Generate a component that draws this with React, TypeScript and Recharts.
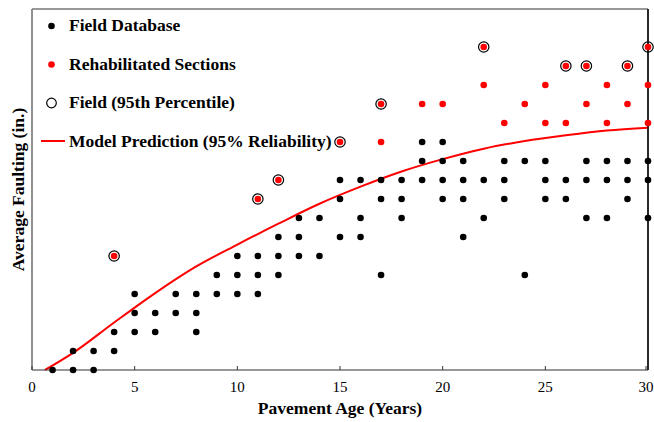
import React from 'react';
import { ComposedChart, Scatter, Line, XAxis, YAxis } from 'recharts';

// Field database points: [age (years), average faulting (in.)]
const fieldAges = [1, 2, 2, 3, 3, 4, 4, 5, 5, 5, 6, 6, 7, 7, 8, 8, 8, 9, 9, 10, 10, 10, 11, 11, 11, 12, 12, 12, 13, 13, 13, 14, 14, 15, 15, 15, 16, 16, 16, 17, 17, 17, 18, 18, 18, 19, 19, 19, 20, 20, 20, 20, 21, 21, 21, 21, 22, 22, 23, 23, 23, 24, 24, 25, 25, 25, 26, 26, 27, 27, 27, 28, 28, 28, 29, 29, 29, 30, 30, 30];
const fieldFaulting = [0, 0, 0.01, 0, 0.01, 0.01, 0.02, 0.02, 0.03, 0.04, 0.02, 0.03, 0.03, 0.04, 0.02, 0.03, 0.04, 0.04, 0.05, 0.04, 0.05, 0.06, 0.04, 0.05, 0.06, 0.05, 0.06, 0.07, 0.06, 0.07, 0.08, 0.06, 0.08, 0.07, 0.09, 0.10, 0.07, 0.08, 0.10, 0.05, 0.09, 0.10, 0.08, 0.09, 0.10, 0.10, 0.11, 0.12, 0.09, 0.10, 0.11, 0.12, 0.07, 0.09, 0.10, 0.11, 0.08, 0.10, 0.09, 0.10, 0.11, 0.05, 0.11, 0.09, 0.10, 0.11, 0.09, 0.10, 0.08, 0.10, 0.11, 0.08, 0.10, 0.11, 0.09, 0.10, 0.11, 0.08, 0.10, 0.11];

// Rehabilitated sections
const rehabAges = [4, 11, 12, 15, 17, 17, 19, 20, 22, 22, 23, 24, 25, 25, 26, 26, 27, 27, 28, 28, 29, 29, 30, 30, 30];
const rehabFaulting = [0.06, 0.09, 0.10, 0.12, 0.12, 0.14, 0.14, 0.14, 0.15, 0.17, 0.13, 0.14, 0.13, 0.15, 0.13, 0.16, 0.14, 0.16, 0.13, 0.15, 0.14, 0.16, 0.13, 0.15, 0.17];

// Field 95th percentile
const p95Ages = [4, 11, 12, 15, 17, 22, 26, 27, 29, 30];
const p95Faulting = [0.06, 0.09, 0.10, 0.12, 0.14, 0.17, 0.16, 0.16, 0.16, 0.17];

// Model prediction (95% reliability)
const modelAges = [0.63, 2, 4, 6, 8, 10, 12, 14, 16, 18, 20, 22, 24, 26, 28, 30];
const modelFaulting = [0, 0.009, 0.025, 0.0405, 0.0545, 0.066, 0.077, 0.0875, 0.0965, 0.1045, 0.111, 0.1165, 0.1205, 0.1235, 0.126, 0.1275];

const xTicks = [0, 5, 10, 15, 20, 25, 30];
const xDomain = [0, 30];
const yDomain = [0, 0.19];

const legendLabels = ['Field Database', 'Rehabilitated Sections', 'Field (95th Percentile)', 'Model Prediction (95% Reliability)'];

const FONT = '"Liberation Serif", "Times New Roman", serif';

const zip = (xs: number[], ys: number[]) => xs.map((x, i) => ({ x, y: ys[i] }));
const fieldData = zip(fieldAges, fieldFaulting);
const rehabData = zip(rehabAges, rehabFaulting);
const p95Data = zip(p95Ages, p95Faulting);
const modelData = zip(modelAges, modelFaulting);

const BlackDot = (p: any) => <circle cx={p.cx} cy={p.cy} r={3.3} fill="#000" />;
const RedDot = (p: any) => <circle cx={p.cx} cy={p.cy} r={3.3} fill="#ff0000" />;
const Ring = (p: any) => <circle cx={p.cx} cy={p.cy} r={5.2} fill="none" stroke="#000" strokeWidth={1.2} />;
const NullTick = () => <g />;

const XTick = (p: any) => (
  <g>
    <line x1={p.x} x2={p.x} y1={p.y - 4} y2={p.y} stroke="#333" strokeWidth={1} />
    <text x={p.x} y={p.y + 22} textAnchor="middle" fontFamily={FONT} fontSize={15} fill="#000">
      {p.payload.value}
    </text>
  </g>
);

export default function App() {
  const rowY = [31, 70, 108, 146.5];
  // plot frame (left/top/right borders) drawn behind the chart
  const plot = { left: 32, top: 9, right: 648, bottom: 370 };
  return (
    <div style={{ position: 'absolute', left: 0, top: 0, width: 654, height: 422 }}>
      <svg width={654} height={422} style={{ position: 'absolute', left: 0, top: 0, pointerEvents: 'none' }}>
        <line x1={plot.left} x2={plot.right} y1={plot.top} y2={plot.top} stroke="#777" strokeWidth={1.2} />
        <line x1={plot.left} x2={plot.left} y1={plot.top} y2={plot.bottom} stroke="#888" strokeWidth={1.5} />
        <line x1={plot.right} x2={plot.right} y1={plot.top} y2={plot.bottom} stroke="#000" strokeWidth={1.2} />
      </svg>
      <ComposedChart width={654} height={422} margin={{ top: 8, right: 5, bottom: 0, left: 0 }}>
        <XAxis
          type="number"
          dataKey="x"
          domain={xDomain}
          ticks={xTicks}
          height={52}
          tickSize={0}
          tickMargin={0}
          tick={<XTick />}
          axisLine={{ stroke: '#333', strokeWidth: 1.2 }}
          label={{
            content: (props: any) => {
              const vb = props.viewBox;
              return (
                <text x={vb.x + vb.width / 2} y={414} textAnchor="middle" fontFamily={FONT} fontWeight="bold" fontSize={17.5} fill="#000">
                  Pavement Age (Years)
                </text>
              );
            },
          }}
        />
        <XAxis
          xAxisId="top"
          orientation="top"
          type="number"
          domain={xDomain}
          ticks={xDomain}
          height={1}
          tickSize={0}
          tick={<NullTick />}
          axisLine={{ stroke: '#777', strokeWidth: 1.2 }}
        />
        <YAxis
          type="number"
          dataKey="y"
          domain={yDomain}
          ticks={yDomain}
          width={32}
          tickSize={0}
          tick={<NullTick />}
          axisLine={{ stroke: '#888', strokeWidth: 1.5 }}
          label={{
            content: (props: any) => {
              const vb = props.viewBox;
              const cx = 18;
              const cy = vb.y + vb.height / 2;
              return (
                <text x={cx} y={cy} transform={`rotate(-90, ${cx}, ${cy})`} textAnchor="middle" dominantBaseline="central" fontFamily={FONT} fontWeight="bold" fontSize={17.5} fill="#000">
                  Average Faulting (in.)
                </text>
              );
            },
          }}
        />
        <YAxis
          yAxisId="right"
          orientation="right"
          type="number"
          domain={yDomain}
          ticks={yDomain}
          width={1}
          tickSize={0}
          tick={<NullTick />}
          axisLine={{ stroke: '#000', strokeWidth: 1.2 }}
        />
        <Line data={modelData} dataKey="y" type="monotone" stroke="#ff0000" strokeWidth={2} dot={false} isAnimationActive={false} />
        <Scatter data={fieldData} shape={BlackDot} isAnimationActive={false} />
        <Scatter data={rehabData} shape={RedDot} isAnimationActive={false} />
        <Scatter data={p95Data} shape={Ring} isAnimationActive={false} />
      </ComposedChart>
      <svg width={360} height={160} style={{ position: 'absolute', left: 0, top: 0, pointerEvents: 'none' }}>
        <circle cx={51.5} cy={26} r={3.3} fill="#000" />
        <circle cx={51.5} cy={64.5} r={3.3} fill="#ff0000" />
        <circle cx={51.5} cy={103} r={4.8} fill="none" stroke="#000" strokeWidth={1.2} />
        <line x1={41} x2={65} y1={141} y2={141} stroke="#ff0000" strokeWidth={2} />
        {legendLabels.map((t, i) => (
          <text key={t} x={69} y={rowY[i]} fontFamily={FONT} fontWeight="bold" fontSize={17.5} fill="#000">
            {t}
          </text>
        ))}
      </svg>
    </div>
  );
}
